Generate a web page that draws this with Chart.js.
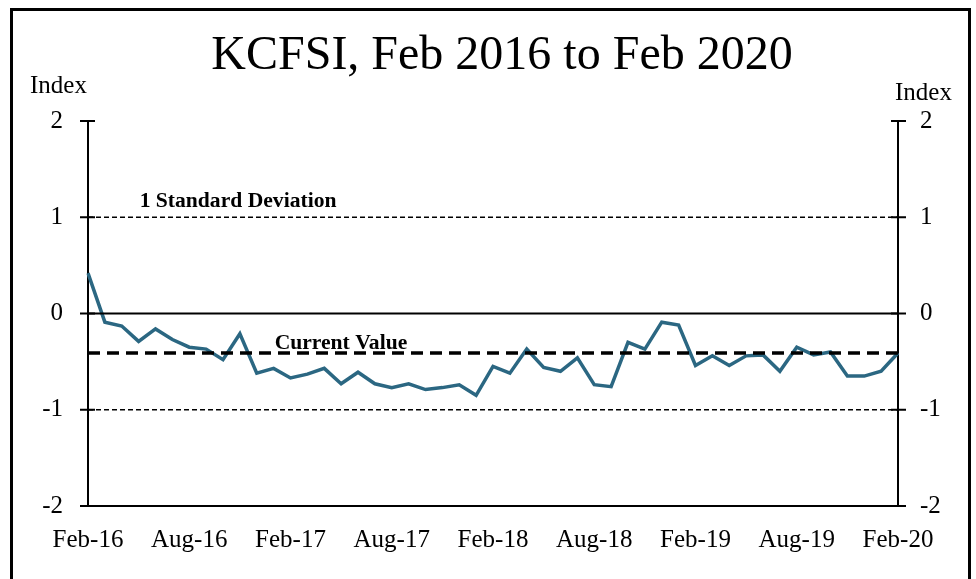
<!DOCTYPE html>
<html>
<head>
<meta charset="utf-8">
<script src="https://cdn.jsdelivr.net/npm/chart.js@4/dist/chart.umd.min.js"></script>
<style>
html,body{margin:0;padding:0;background:#fff;}
canvas{display:block;}
</style>
</head>
<body>
<canvas id="c" width="976" height="579"></canvas>
<script>
const months = ["Feb-16","Mar-16","Apr-16","May-16","Jun-16","Jul-16","Aug-16","Sep-16","Oct-16","Nov-16","Dec-16","Jan-17",
"Feb-17","Mar-17","Apr-17","May-17","Jun-17","Jul-17","Aug-17","Sep-17","Oct-17","Nov-17","Dec-17","Jan-18",
"Feb-18","Mar-18","Apr-18","May-18","Jun-18","Jul-18","Aug-18","Sep-18","Oct-18","Nov-18","Dec-18","Jan-19",
"Feb-19","Mar-19","Apr-19","May-19","Jun-19","Jul-19","Aug-19","Sep-19","Oct-19","Nov-19","Dec-19","Jan-20","Feb-20"];
const kcfsi = [0.42,-0.09,-0.13,-0.29,-0.16,-0.27,-0.35,-0.37,-0.48,-0.21,-0.62,-0.57,
-0.67,-0.63,-0.57,-0.73,-0.61,-0.73,-0.77,-0.73,-0.79,-0.77,-0.74,-0.85,
-0.55,-0.62,-0.37,-0.56,-0.60,-0.46,-0.74,-0.76,-0.30,-0.37,-0.09,-0.12,
-0.54,-0.44,-0.54,-0.44,-0.43,-0.60,-0.35,-0.43,-0.40,-0.65,-0.65,-0.60,-0.41];
const stdDevUpper = 1;
const stdDevLower = -1;
const zeroLevel = 0;
const currentValue = -0.41;
const yTicks = [2, 1, 0, -1, -2];
const titleText = "KCFSI, Feb 2016 to Feb 2020";

const flat = v => months.map(() => v);
const serif = "'Liberation Serif','Times New Roman',serif";

function stretchText(ctx, text, x, y, sx) {
  ctx.save();
  ctx.translate(x, y);
  ctx.scale(sx, 1);
  ctx.fillText(text, 0, 0);
  ctx.restore();
}

const decor = {
  id: 'decor',
  afterDraw(chart) {
    const ctx = chart.ctx;
    const x = chart.scales.x, yl = chart.scales.y;
    ctx.save();
    // frame
    ctx.strokeStyle = '#000'; ctx.lineWidth = 3;
    ctx.strokeRect(11.5, 9.5, 958, 600);
    // title
    ctx.fillStyle = '#000';
    ctx.font = "48px " + serif;
    ctx.textAlign = 'center'; ctx.textBaseline = 'middle';
    ctx.fillText(titleText, 502, 56);
    // Index labels
    ctx.font = "25px " + serif;
    ctx.textAlign = 'left';
    ctx.fillText("Index", 30, 86);
    ctx.fillText("Index", 895, 93);
    // cross ticks
    ctx.lineWidth = 2; ctx.strokeStyle = '#000';
    yTicks.forEach(v => {
      const py = yl.getPixelForValue(v);
      ctx.beginPath(); ctx.moveTo(x.left - 8, py); ctx.lineTo(x.left + 7, py); ctx.stroke();
      ctx.beginPath(); ctx.moveTo(x.right - 7, py); ctx.lineTo(x.right + 8, py); ctx.stroke();
    });
    // annotations
    ctx.font = "bold 20px " + serif;
    ctx.textAlign = 'left'; ctx.textBaseline = 'alphabetic';
    stretchText(ctx, "1 Standard Deviation", x.getPixelForValue(3) + 1, yl.getPixelForValue(stdDevUpper) - 10, 1.08);
    stretchText(ctx, "Current Value", x.getPixelForValue(11) + 1, yl.getPixelForValue(currentValue) - 4, 1.08);
    ctx.restore();
  }
};

new Chart(document.getElementById('c'), {
  type: 'line',
  data: {
    labels: months,
    datasets: [
      { data: flat(stdDevUpper), borderColor: '#000', borderWidth: 1.5, borderDash: [5, 3], pointRadius: 0, yAxisID: 'y' },
      { data: flat(stdDevLower), borderColor: '#000', borderWidth: 1.5, borderDash: [5, 3], pointRadius: 0, yAxisID: 'y' },
      { data: flat(zeroLevel), borderColor: '#000', borderWidth: 2, pointRadius: 0, yAxisID: 'y' },
      { data: flat(currentValue), borderColor: '#000', borderWidth: 3.5, borderDash: [12, 7], pointRadius: 0, yAxisID: 'y' },
      { data: kcfsi, borderColor: '#2B6782', borderWidth: 3.5, pointRadius: 0, tension: 0, yAxisID: 'y' }
    ]
  },
  options: {
    responsive: false,
    animation: false,
    layout: { padding: { top: 121, left: 0, right: 0, bottom: 0 } },
    plugins: { legend: { display: false }, tooltip: { enabled: false }, title: { display: false } },
    scales: {
      x: {
        type: 'category',
        offset: false,
        grid: { display: false, drawTicks: false },
        border: { display: true, color: '#000', width: 2 },
        ticks: {
          autoSkip: false, maxRotation: 0, minRotation: 0, padding: 19,
          color: '#000', font: { family: serif, size: 25 },
          callback: (v, i) => (i % 6 === 0 ? months[i] : '')
        },
        afterFit: s => { s.height = 73; }
      },
      y: {
        position: 'left', min: -2, max: 2,
        grid: { display: false, drawTicks: false },
        border: { display: true, color: '#000', width: 2 },
        ticks: { stepSize: 1, padding: 25, color: '#000', font: { family: serif, size: 25 } },
        afterFit: s => { s.width = 88; }
      },
      y2: {
        position: 'right', min: -2, max: 2,
        grid: { display: false, drawTicks: false },
        border: { display: true, color: '#000', width: 2 },
        ticks: { stepSize: 1, padding: 22, color: '#000', font: { family: serif, size: 25 } },
        afterFit: s => { s.width = 78; }
      }
    }
  },
  plugins: [decor]
});
</script>
</body>
</html>
